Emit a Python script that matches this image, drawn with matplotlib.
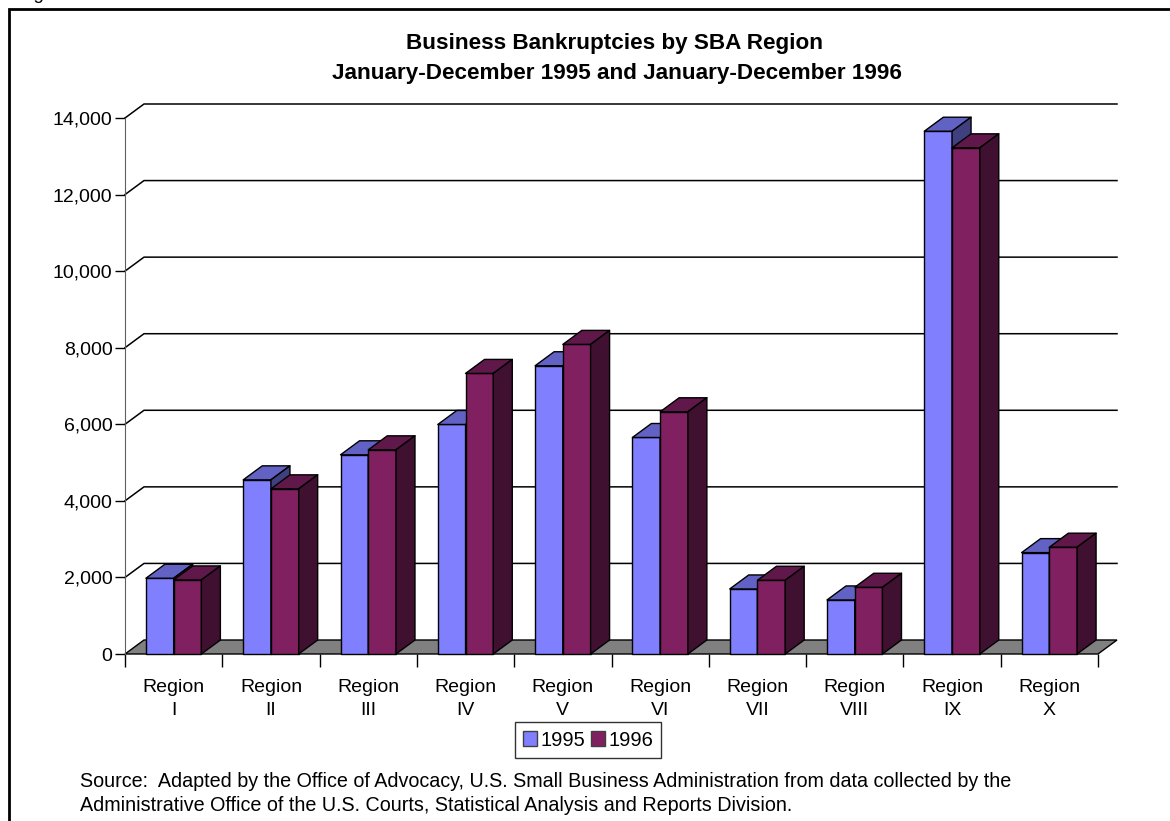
import matplotlib
matplotlib.use("Agg")
import matplotlib.pyplot as plt
from matplotlib.patches import Polygon, Patch, Rectangle
from matplotlib.ticker import FuncFormatter

# Values (number of business bankruptcies)
regions = ["I", "II", "III", "IV", "V", "VI", "VII", "VIII", "IX", "X"]
bankruptcies_1995 = [1979, 4549, 5203, 5995, 7529, 5655, 1699, 1412, 13655, 2648]
bankruptcies_1996 = [1935, 4314, 5333, 7329, 8087, 6327, 1926, 1743, 13221, 2790]
series_names = ["1995", "1996"]
y_ticks = [0, 2000, 4000, 6000, 8000, 10000, 12000, 14000]

# face colours: front, top, side
COLORS = {
    "1995": ("#8080FF", "#6262C4", "#404080"),
    "1996": ("#802060", "#60184A", "#401030"),
}

FONT = ["Liberation Sans", "DejaVu Sans"]
W, H = 1170, 821
DEPTH_PX = (19, 14)  # 3d offset of the back wall in pixels


def draw_box(ax, x0, width, height, colors, dx, dy):
    """Draw one pseudo-3d column as front, top and side polygons."""
    front, top, side = colors
    kw = dict(edgecolor="black", linewidth=1, clip_on=False, joinstyle="round")
    ax.add_patch(Polygon([(x0, 0), (x0 + width, 0), (x0 + width, height), (x0, height)],
                         facecolor=front, **kw))
    ax.add_patch(Polygon([(x0, height), (x0 + width, height),
                          (x0 + width + dx, height + dy), (x0 + dx, height + dy)],
                         facecolor=top, **kw))
    ax.add_patch(Polygon([(x0 + width, 0), (x0 + width + dx, dy),
                          (x0 + width + dx, height + dy), (x0 + width, height)],
                         facecolor=side, **kw))


def plot_bankruptcies():
    plt.rcParams["font.family"] = FONT
    fig = plt.figure(figsize=(W / 100, H / 100), dpi=100)

    # front plane of the plot area
    left, right, bottom, top = 125, 1098, 654, 118
    ax = fig.add_axes([left / W, 1 - bottom / H, (right - left) / W, (bottom - top) / H])
    n = len(regions)
    ymax = y_ticks[-1]
    ax.set_xlim(0, n)
    ax.set_ylim(0, ymax)

    px_x = (right - left) / n
    px_y = (bottom - top) / ymax
    dx = DEPTH_PX[0] / px_x
    dy = DEPTH_PX[1] / px_y

    # floor
    ax.add_patch(Polygon([(0, 0), (n, 0), (n + dx, dy), (dx, dy)],
                         facecolor="#808080", edgecolor="black", linewidth=1, clip_on=False))

    # gridlines on the back wall, with the diagonal from the axis
    for v in y_ticks[1:]:
        ax.plot([0, dx, n + dx], [v, v + dy, v + dy], color="black", linewidth=1.1,
                clip_on=False, zorder=0.5)

    width = 0.285
    for i in range(n):
        draw_box(ax, i + 0.5 - width, width, bankruptcies_1995[i], COLORS["1995"], dx, dy)
        draw_box(ax, i + 0.5, width, bankruptcies_1996[i], COLORS["1996"], dx, dy)

    # axes styling
    for s in ["top", "right", "bottom"]:
        ax.spines[s].set_visible(False)
    ax.spines["left"].set_color("#606060")
    ax.set_facecolor("none")
    ax.set_yticks(y_ticks)
    ax.yaxis.set_major_formatter(FuncFormatter(lambda v, p: f"{int(v):,}"))
    ax.tick_params(axis="y", length=7, width=1, color="black", labelsize=14, pad=2)

    ax.set_xticks(range(n + 1))
    ax.set_xticklabels([])
    ax.set_xticks([i + 0.5 for i in range(n)], minor=True)
    ax.set_xticklabels([f"Region\n{r}" for r in regions], minor=True)
    ax.tick_params(axis="x", which="major", length=9, width=1, color="black")
    ax.tick_params(axis="x", which="minor", length=0, labelsize=14, pad=18)
    for lbl in ax.get_xticklabels(minor=True):
        lbl.set_linespacing(1.45)

    # title
    fig.text(615 / W, 1 - 43 / H, "Business Bankruptcies by SBA Region",
             ha="center", va="center", fontsize=16.2, fontweight="bold")
    fig.text(617 / W, 1 - 73 / H, "January-December 1995 and January-December 1996",
             ha="center", va="center", fontsize=16.2, fontweight="bold")

    # legend
    handles = [Patch(facecolor=COLORS[s][0], edgecolor="#404040", linewidth=1) for s in series_names]
    fig.legend(handles, series_names, loc="center", bbox_to_anchor=(588 / W, 1 - 740 / H),
               ncol=2, fontsize=14.5, frameon=True, fancybox=False, edgecolor="black",
               handlelength=0.7, handleheight=0.7, handletextpad=0.15, columnspacing=0.3,
               borderpad=0.4, borderaxespad=0)

    # source note
    fig.text(80 / W, 1 - 781 / H,
             "Source:  Adapted by the Office of Advocacy, U.S. Small Business Administration "
             "from data collected by the", ha="left", va="center", fontsize=14.2)
    fig.text(80 / W, 1 - 805 / H,
             "Administrative Office of the U.S. Courts, Statistical Analysis and Reports Division.",
             ha="left", va="center", fontsize=14.2)

    # outer frame (runs off the right and bottom) and the cut caption line above it
    fig.add_artist(Rectangle((9 / W, -0.05), 1.1, 1.05 - 9 / H,
                             transform=fig.transFigure, fill=False, edgecolor="black",
                             linewidth=2))
    fig.text(19 / W, 1 + 1 / H, "Figure", ha="left", va="baseline", fontsize=13.5)

    fig.savefig("out.png", dpi=100)


if __name__ == "__main__":
    plot_bankruptcies()
